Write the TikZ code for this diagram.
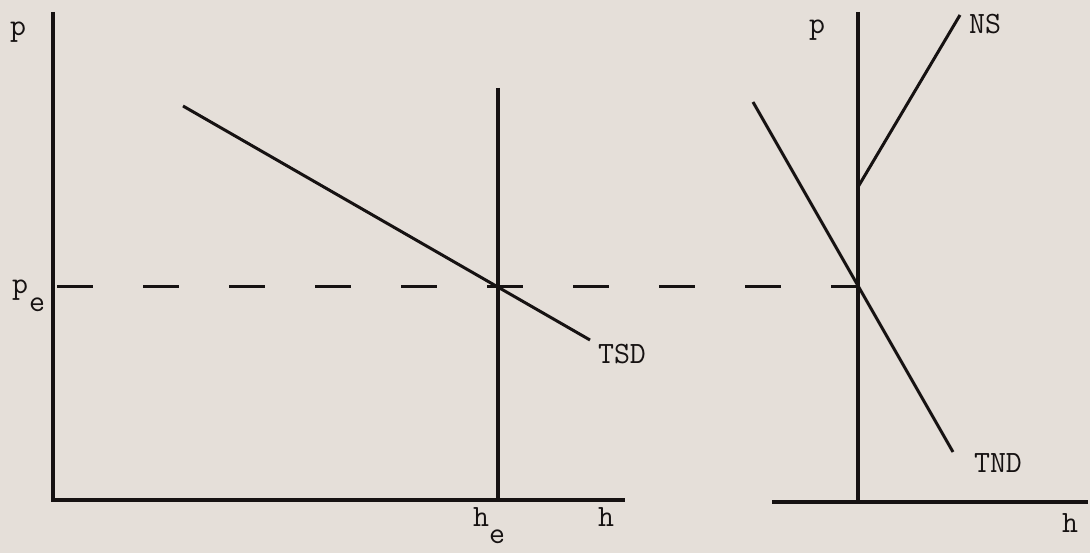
\documentclass[tikz,border=0pt]{standalone}
\usepackage{fontspec}
\definecolor{paper}{RGB}{229,223,217}
\definecolor{ink}{RGB}{22,18,18}
\begin{document}
\begin{tikzpicture}[x=1pt,y=-1pt,
  axis/.style={ink,line width=3.6pt},
  curve/.style={ink,line width=3pt},
  guide/.style={ink,line width=3pt,dash pattern=on 36pt off 50pt,dash phase=-4pt},
  lbl/.style={ink,font=\ttfamily\fontsize{31}{31}\selectfont,inner sep=0pt}]
\fill[paper] (0,0) rectangle (1090,553);
\useasboundingbox (0,0) rectangle (1090,553);
% left panel coordinates
\coordinate (Otop) at (53,12);
\coordinate (O) at (53,500);
\coordinate (Hend) at (625,500);
\coordinate (Vtop) at (498,88);
\coordinate (Vbot) at (498,500);
\coordinate (Ts) at (183,106);
\coordinate (Te) at (590,340);
\coordinate (Pe) at (53,287);
% right panel coordinates
\coordinate (Rtop) at (858,12);
\coordinate (Rbot) at (858,502);
\coordinate (Rl) at (772,502);
\coordinate (Rr) at (1088,502);
\coordinate (Ns) at (858,187);
\coordinate (Ne) at (960,15);
\coordinate (Ds) at (753,102);
\coordinate (De) at (953,452);
\coordinate (Eq) at (858,287);
% axes
\draw[axis] (Otop) -- (O) -- (Hend);
\draw[axis] (Vtop) -- (Vbot);
\draw[axis] (Rtop) -- (Rbot);
\draw[axis] (Rl) -- (Rr);
% curves
\draw[curve] (Ts) -- (Te);
\draw[curve] (Ns) -- (Ne);
\draw[curve] (Ds) -- (De);
\draw[guide] (Pe) -- (Eq);
% labels
\node[lbl] (p1) at (18,32) {p};
\node[lbl] (pe) at (20,290) {p};
\node[lbl] (pesub) at (37,305) {e};
\node[lbl] (he) at (481,517) {h};
\node[lbl] (hesub) at (497,537) {e};
\node[lbl] (h1) at (606,517) {h};
\node[lbl] (tsd) at (622,354) {TSD};
\node[lbl] (p2) at (817,30) {p};
\node[lbl] (ns) at (985,24) {NS};
\node[lbl] (tnd) at (998,463) {TND};
\node[lbl] (h2) at (1070,523) {h};
\end{tikzpicture}
\end{document}
